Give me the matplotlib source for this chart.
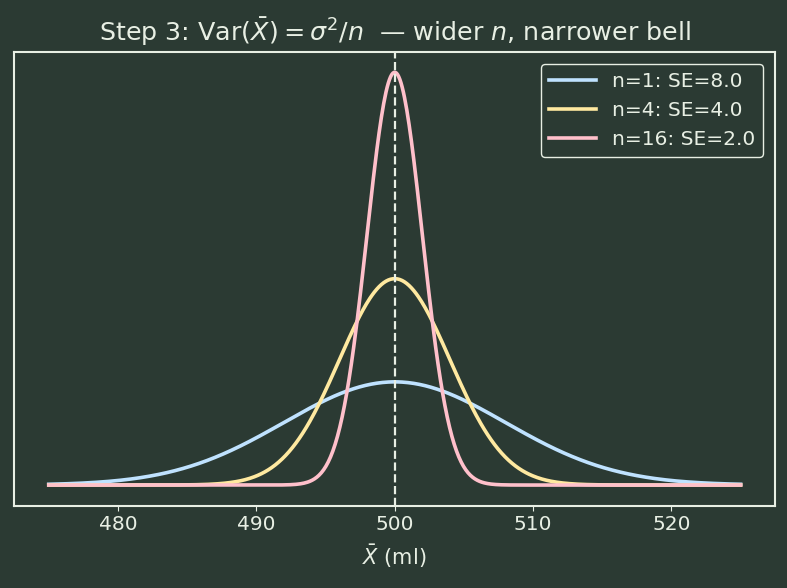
import numpy as np
import matplotlib
matplotlib.use("Agg")
import matplotlib.pyplot as plt

# sampling distribution of the mean: mu = 500 ml, sigma = 8 ml
mu = 500.0
sigma = 8.0
ns = [1, 4, 16]
colors = ["#bfe2ff", "#ffe9a0", "#ffc0cb"]
x_lo, x_hi = 475, 525

bg = "#2b3a33"
fg = "#e8efe4"

fig, ax = plt.subplots(figsize=(7.87, 5.88), dpi=100)
fig.patch.set_facecolor(bg)
ax.set_facecolor(bg)

x = np.linspace(x_lo, x_hi, 600)
for n, c in zip(ns, colors):
    se = sigma / np.sqrt(n)
    pdf = np.exp(-0.5 * ((x - mu) / se) ** 2) / (se * np.sqrt(2 * np.pi))
    ax.plot(x, pdf, color=c, lw=2.6, label="n=%d: SE=%.1f" % (n, se))

ax.axvline(mu, color=fg, ls="--", lw=1.6)

ax.set_yticks([])
ax.set_xlabel(r"$\bar{X}$ (ml)", color=fg, fontsize=15, labelpad=6)
ax.set_title(r"Step 3: $\mathrm{Var}(\bar{X}) = \sigma^2/n$  — wider $n$, narrower bell",
             color=fg, fontsize=18.3, pad=8)
ax.tick_params(colors=fg, labelsize=14.5)
for s in ax.spines.values():
    s.set_color(fg)
    s.set_linewidth(1.5)

leg = ax.legend(fontsize=14.5, facecolor=bg, edgecolor=fg, labelcolor=fg,
                loc="upper right", borderaxespad=0.6, handlelength=2.3)
leg.get_frame().set_alpha(1)

fig.subplots_adjust(left=0.018, right=0.985, top=0.912, bottom=0.14)
fig.savefig("out.png", dpi=100, facecolor=bg)
